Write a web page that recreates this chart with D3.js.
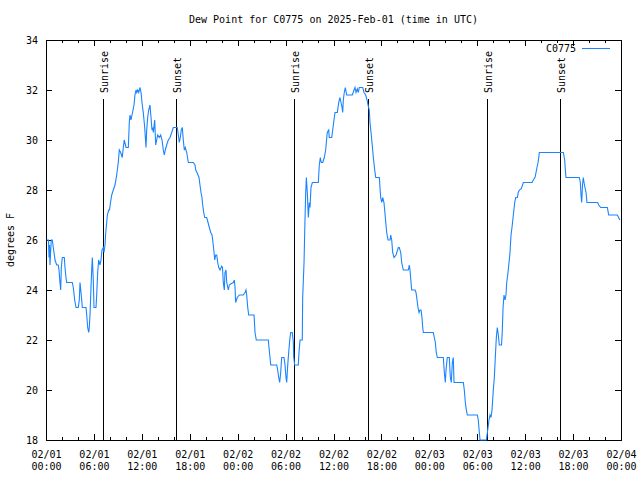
<!DOCTYPE html>
<html>
<head>
<meta charset="utf-8">
<script src="https://cdn.jsdelivr.net/npm/d3@7"></script>
<style>
  html, body { margin: 0; padding: 0; background: #fff; }
  svg text { font-family: "DejaVu Sans Mono", "Liberation Mono", monospace; font-size: 10px; fill: #000; }
</style>
</head>
<body>
<svg id="chart" width="640" height="480"></svg>
<script>
// ---- data (hours since 2025-02-01 00:00 UTC, dew point in degrees F) ----
const hours = [0.06,0.31,0.38,0.44,0.50,0.59,0.66,0.79,0.91,1.00,1.13,1.34,1.54,1.63,1.75,1.84,1.92,2.04,2.29,2.38,2.50,2.59,3.29,3.42,3.59,3.76,4.04,4.17,4.26,4.35,4.47,4.55,5.01,5.10,5.22,5.35,5.42,5.51,5.60,5.72,5.80,5.92,6.01,6.26,6.35,6.47,6.60,6.76,6.89,7.01,7.18,7.26,7.39,7.48,7.60,7.68,7.85,7.95,8.08,8.23,8.43,8.64,8.85,9.05,9.18,9.35,9.55,9.68,9.80,10.02,10.31,10.43,10.52,10.64,10.77,11.02,11.14,11.27,11.36,11.48,11.61,11.77,11.90,12.02,12.18,12.36,12.52,12.61,12.73,12.86,13.02,13.15,13.27,13.36,13.44,13.61,13.74,13.86,13.99,14.19,14.36,14.53,14.69,14.81,14.94,15.11,15.31,15.53,15.74,15.94,16.44,16.57,16.69,16.82,16.94,17.07,17.19,17.32,17.44,17.62,17.82,18.44,18.66,18.75,18.91,19.16,19.28,19.41,19.53,19.62,19.75,19.87,20.12,20.29,20.45,20.63,20.79,20.91,21.04,21.13,21.25,21.38,21.50,21.63,21.79,22.00,22.10,22.20,22.33,22.41,22.54,22.63,22.83,22.95,23.17,23.45,23.58,23.67,23.75,23.95,24.21,24.71,24.92,25.04,25.13,25.26,25.38,26.05,26.17,26.33,27.84,27.92,28.05,28.14,28.89,29.01,29.14,29.26,29.39,29.51,29.80,29.93,30.05,30.14,30.27,30.39,30.52,30.64,30.84,30.97,31.02,31.14,31.59,31.68,31.81,32.09,32.14,32.31,32.40,32.52,32.60,32.72,32.85,32.97,33.06,33.18,33.35,34.10,34.22,34.35,34.47,34.65,34.85,35.02,35.22,35.40,35.47,35.78,35.98,36.19,36.48,36.65,36.81,36.94,37.07,37.15,37.23,37.35,37.48,37.65,38.36,38.57,38.69,38.82,38.98,39.11,39.23,39.66,39.82,40.03,40.20,40.32,40.48,40.57,40.70,40.82,40.99,41.16,41.29,41.74,41.82,41.91,42.04,42.16,42.32,42.49,42.66,42.83,43.08,43.16,43.29,43.41,43.58,43.83,44.12,44.24,44.42,44.54,44.74,45.37,45.49,45.58,45.71,45.79,46.21,46.33,46.46,46.58,46.71,46.83,46.96,47.08,47.17,47.25,48.50,48.62,48.75,48.87,49.00,49.75,49.88,50.00,50.09,50.25,50.50,50.63,50.75,50.88,51.00,51.09,52.26,52.38,52.51,52.63,52.76,54.01,54.13,54.26,54.35,55.14,55.31,55.47,55.60,55.72,55.85,56.01,56.14,56.26,56.39,56.51,56.64,56.76,57.04,57.14,57.23,57.35,57.48,57.60,57.69,57.85,57.98,58.10,58.23,58.35,58.52,58.69,58.82,59.02,59.14,59.27,59.52,59.77,60.86,61.02,61.23,61.36,61.48,61.61,61.70,61.77,64.78,64.95,65.03,65.11,66.78,66.91,66.99,67.08,67.18,67.28,67.37,67.49,67.62,67.74,69.08,69.21,69.46,70.29,70.46,71.54,71.71,71.84];
const dewpoint = [26.0,26.0,25.3,25.8,25.0,25.6,26.0,26.0,25.7,25.5,25.2,25.0,25.0,24.8,24.3,24.0,24.9,25.3,25.3,24.9,24.5,24.3,24.3,24.1,23.6,23.3,23.3,23.6,24.3,24.0,23.6,23.3,23.3,23.0,22.5,22.3,22.5,23.0,23.8,24.8,25.3,24.4,23.3,23.3,23.8,24.7,25.2,25.0,25.2,25.6,25.7,25.5,25.8,26.3,26.7,27.0,27.2,27.2,27.5,27.8,28.0,28.2,28.6,29.1,29.6,29.5,29.3,29.7,30.0,29.7,29.7,30.7,31.0,30.8,31.0,31.4,31.8,32.0,31.9,32.0,31.9,32.1,31.9,31.5,31.1,30.5,29.7,30.4,30.9,31.2,31.4,30.9,30.4,30.5,30.3,30.8,29.8,30.0,30.2,30.1,30.2,30.0,29.6,29.4,29.6,29.8,30.0,30.1,30.3,30.5,30.5,30.2,29.9,30.1,30.4,30.5,30.0,29.6,29.7,29.5,29.1,29.1,29.0,28.8,28.7,28.5,28.2,27.9,27.7,27.4,27.1,26.9,26.9,26.7,26.5,26.3,26.2,25.9,25.5,25.2,25.4,25.4,25.1,24.9,24.8,24.95,24.9,24.3,24.0,24.7,24.8,24.3,24.0,24.2,24.25,24.3,24.4,24.1,23.5,23.7,23.8,23.8,23.9,24.0,23.8,23.3,23.0,23.0,22.3,22.0,22.0,21.7,21.3,21.0,21.0,20.8,20.5,20.3,20.7,21.3,21.3,21.0,20.5,20.3,21.0,21.5,22.0,22.3,22.3,21.9,21.3,21.0,21.0,21.5,22.0,22.0,23.7,25.1,26.4,27.9,28.5,27.9,26.9,27.5,27.3,28.1,28.3,28.3,29.0,29.3,29.1,29.1,29.3,29.6,30.3,30.4,30.1,30.1,30.6,31.1,31.1,31.5,31.7,31.5,31.3,31.1,31.6,31.9,32.1,31.8,31.8,32.0,32.1,31.9,32.05,31.9,32.1,32.1,31.9,31.8,31.6,31.4,31.2,30.7,30.3,29.9,29.3,28.8,28.5,28.5,28.1,27.7,27.5,27.7,27.5,26.9,26.3,26.0,26.0,26.2,26.0,25.5,25.3,25.4,25.7,25.7,25.5,25.1,24.8,24.8,25.0,24.8,24.3,24.0,24.0,23.9,23.6,23.3,23.1,23.2,23.2,22.9,22.5,22.3,22.3,22.1,21.9,21.5,21.3,21.3,20.7,20.3,20.8,21.3,21.3,20.5,20.3,21.1,21.3,20.3,20.3,20.0,19.5,19.2,19.0,19.0,18.8,18.3,18.0,18.0,18.4,18.8,19.0,18.9,19.2,20.0,20.5,21.3,22.1,22.5,22.2,21.8,21.8,22.4,23.3,23.8,23.6,23.8,24.3,24.7,25.1,25.5,26.2,26.5,27.0,27.5,27.7,27.7,27.9,28.0,28.05,28.3,28.3,28.4,28.5,28.7,28.9,29.1,29.3,29.5,29.5,29.2,28.8,28.5,28.5,28.3,27.8,27.5,28.2,28.5,28.3,28.1,27.9,27.5,27.5,27.4,27.3,27.3,27.0,27.0,26.9,26.8];

const sunEvents = ["Sunrise","Sunset","Sunrise","Sunset","Sunrise","Sunset"];
const sunHours  = [7.18, 16.32, 31.09, 40.36, 55.19, 64.40];

const yTicks = [18,20,22,24,26,28,30,32,34];
const xTickHours = [0,6,12,18,24,30,36,42,48,54,60,66,72];
const xTickDates = ["02/01","02/01","02/01","02/01","02/02","02/02","02/02","02/02","02/03","02/03","02/03","02/03","02/04"];
const xTickTimes = ["00:00","06:00","12:00","18:00","00:00","06:00","12:00","18:00","00:00","06:00","12:00","18:00","00:00"];
const xMinorHours = d3.range(0, 73, 2);

const titleText = "Dew Point for C0775 on 2025-Feb-01 (time in UTC)";
const yLabel = "degrees F";
const seriesName = "C0775";
const lineColor = "#1a84ff";

// ---- layout ----
const L = 46, R = 621, T = 40, B = 440;
const svg = d3.select("#chart");
const x = d3.scaleLinear().domain([0, 72]).range([L, R]);
const y = d3.scaleLinear().domain([18, 34]).range([B, T]);

// axes (ticks inward, mirrored)
function styleAxis(g) {
  g.select(".domain").remove();
  g.selectAll("line").attr("stroke", "#000").attr("shape-rendering", "crispEdges");
}
svg.append("g").attr("transform", `translate(0,${B})`)
  .call(d3.axisBottom(x).tickValues(xMinorHours.filter(h => h % 6 !== 0)).tickSize(-3).tickFormat(""))
  .call(styleAxis);
svg.append("g").attr("transform", `translate(0,${T})`)
  .call(d3.axisTop(x).tickValues(xMinorHours.filter(h => h % 6 !== 0)).tickSize(-3).tickFormat(""))
  .call(styleAxis);
svg.append("g").attr("transform", `translate(0,${B})`)
  .call(d3.axisBottom(x).tickValues(xTickHours).tickSize(-6).tickFormat(""))
  .call(styleAxis);
svg.append("g").attr("transform", `translate(0,${T})`)
  .call(d3.axisTop(x).tickValues(xTickHours).tickSize(-6).tickFormat(""))
  .call(styleAxis);

const yAx = svg.append("g").attr("transform", `translate(${L},0)`)
  .call(d3.axisLeft(y).tickValues(yTicks).tickSize(-6).tickPadding(8).tickFormat(d3.format("d")))
  .call(styleAxis);
yAx.selectAll("text").attr("font-size", null).attr("font-family", null).attr("fill", "#000");
svg.append("g").attr("transform", `translate(${R},0)`)
  .call(d3.axisRight(y).tickValues(yTicks).tickSize(-6).tickFormat(""))
  .call(styleAxis);

// x tick labels (two lines)
const xl = svg.append("g");
xTickHours.forEach((h, i) => {
  const t = xl.append("text").attr("text-anchor", "middle");
  t.append("tspan").attr("x", x(h) + 0.5).attr("y", 458).text(xTickDates[i]);
  t.append("tspan").attr("x", x(h) + 0.5).attr("y", 470).text(xTickTimes[i]);
});

// frame
svg.append("rect").attr("x", L + 0.5).attr("y", T + 0.5).attr("width", R - L).attr("height", B - T)
  .attr("fill", "none").attr("stroke", "#000").attr("shape-rendering", "crispEdges");

// sunrise / sunset markers
sunHours.forEach((h, i) => {
  const px = Math.round(x(h)) + 0.5;
  svg.append("line").attr("x1", px).attr("x2", px).attr("y1", 99).attr("y2", B)
    .attr("stroke", "#000").attr("shape-rendering", "crispEdges");
  svg.append("text").attr("transform", `translate(${px + 4},93) rotate(-90)`)
    .attr("text-anchor", "start").text(sunEvents[i]);
});

// data line
const pts = hours.map((h, i) => [h, dewpoint[i]]);
svg.append("path").datum(pts)
  .attr("fill", "none").attr("stroke", lineColor).attr("stroke-width", 1.1)
  .attr("d", d3.line().x(d => x(d[0])).y(d => y(d[1])));

// title
svg.append("text").attr("x", (L + R) / 2).attr("y", 23).attr("text-anchor", "middle").text(titleText);

// y label
svg.append("text").attr("transform", `translate(14,${(T + B) / 2}) rotate(-90)`)
  .attr("text-anchor", "middle").text(yLabel);

// legend
svg.append("text").attr("x", 576).attr("y", 52).attr("text-anchor", "end").text(seriesName);
svg.append("line").attr("x1", 582).attr("x2", 610).attr("y1", 48.5).attr("y2", 48.5)
  .attr("stroke", lineColor).attr("stroke-width", 1).attr("shape-rendering", "crispEdges");
</script>
</body>
</html>
